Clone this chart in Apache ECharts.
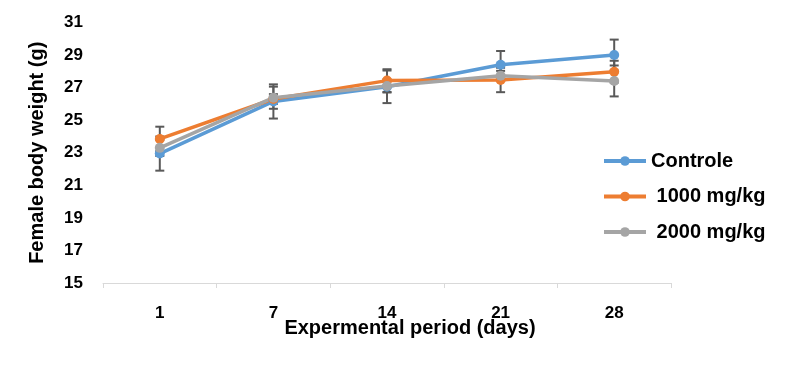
<!DOCTYPE html>
<html><head><meta charset="utf-8">
<script src="https://cdn.jsdelivr.net/npm/echarts@6/dist/echarts.min.js"></script>
<style>html,body{margin:0;padding:0;background:#fff}#c{width:796px;height:390px}</style>
</head><body><div id="c"></div>
<script>
const days = ['1', '7', '14', '21', '28'];
const seriesNames = ['Controle', ' 1000 mg/kg', ' 2000 mg/kg'];
const controle = [22.95, 26.15, 27.05, 28.4, 29.0];
const mg1000 = [23.85, 26.3, 27.43, 27.47, 27.98];
const mg2000 = [23.3, 26.38, 27.1, 27.73, 27.41];
const controleErr = [1.05, 1.05, 1.0, 0.85, 0.95];
const mg1000Err = [0.75, 0.3, 0.7, 0.75, 0.67];
const mg2000Err = [0.5, 0.68, 0.4, 0.3, 0.95];
const colors = ['#5B9BD5', '#ED7D31', '#A5A5A5'];
const FONT = 'Liberation Sans, Arial, sans-serif';

const chart = echarts.init(document.getElementById('c'), null, {renderer: 'canvas'});

function errSeries(vals, errs) {
  return {
    type: 'custom',
    z: 1,
    silent: true,
    data: vals.map((v, i) => [i, v - errs[i], v + errs[i]]),
    renderItem: function (params, api) {
      const lo = api.coord([api.value(0), api.value(1)]);
      const hi = api.coord([api.value(0), api.value(2)]);
      const hw = 4.5;
      const st = {stroke: '#595959', lineWidth: 2};
      return {
        type: 'group',
        children: [
          {type: 'line', shape: {x1: lo[0], y1: lo[1], x2: hi[0], y2: hi[1]}, style: st},
          {type: 'line', shape: {x1: lo[0] - hw, y1: lo[1], x2: lo[0] + hw, y2: lo[1]}, style: st},
          {type: 'line', shape: {x1: hi[0] - hw, y1: hi[1], x2: hi[0] + hw, y2: hi[1]}, style: st}
        ]
      };
    }
  };
}

function lineSeries(name, vals, color) {
  return {
    name: name, type: 'line', z: 3, data: vals,
    symbol: 'circle', symbolSize: 10,
    lineStyle: {color: color, width: 3.5},
    itemStyle: {color: color},
    emphasis: {disabled: true}
  };
}

chart.setOption({
  animation: false,
  backgroundColor: '#fff',
  color: colors,
  grid: {left: 103, right: 125, top: 22.5, bottom: 107},
  legend: {
    orient: 'vertical', left: 602, top: 151, padding: 0,
    itemWidth: 42, itemHeight: 12, itemGap: 15.5,
    data: seriesNames,
    lineStyle: {width: 4},
    textStyle: {fontFamily: FONT, fontSize: 20, fontWeight: 'bold', color: '#000'}
  },
  xAxis: {
    type: 'category', data: days, boundaryGap: true,
    name: 'Expermental period (days)', nameLocation: 'middle', nameGap: 35,
    nameMoveOverlap: false,
    nameTextStyle: {fontFamily: FONT, fontSize: 20, fontWeight: 'bold', color: '#000', padding: [0, 0, 0, 46]},
    axisLine: {show: true, lineStyle: {color: '#D9D9D9', width: 1}},
    axisTick: {show: true, length: 5, lineStyle: {color: '#D9D9D9'}},
    axisLabel: {fontFamily: FONT, fontSize: 17, fontWeight: 'bold', color: '#000', margin: 22},
    splitLine: {show: false}
  },
  yAxis: {
    type: 'value', min: 15, max: 31, interval: 2,
    name: 'Female body weight (g)', nameLocation: 'middle', nameGap: 56,
    nameMoveOverlap: false,
    nameTextStyle: {fontFamily: FONT, fontSize: 20, fontWeight: 'bold', color: '#000'},
    axisLine: {show: false}, axisTick: {show: false}, splitLine: {show: false},
    axisLabel: {fontFamily: FONT, fontSize: 17, fontWeight: 'bold', color: '#000', margin: 20}
  },
  series: [
    errSeries(controle, controleErr),
    errSeries(mg1000, mg1000Err),
    errSeries(mg2000, mg2000Err),
    lineSeries(seriesNames[0], controle, colors[0]),
    lineSeries(seriesNames[1], mg1000, colors[1]),
    lineSeries(seriesNames[2], mg2000, colors[2])
  ]
});
</script></body></html>
